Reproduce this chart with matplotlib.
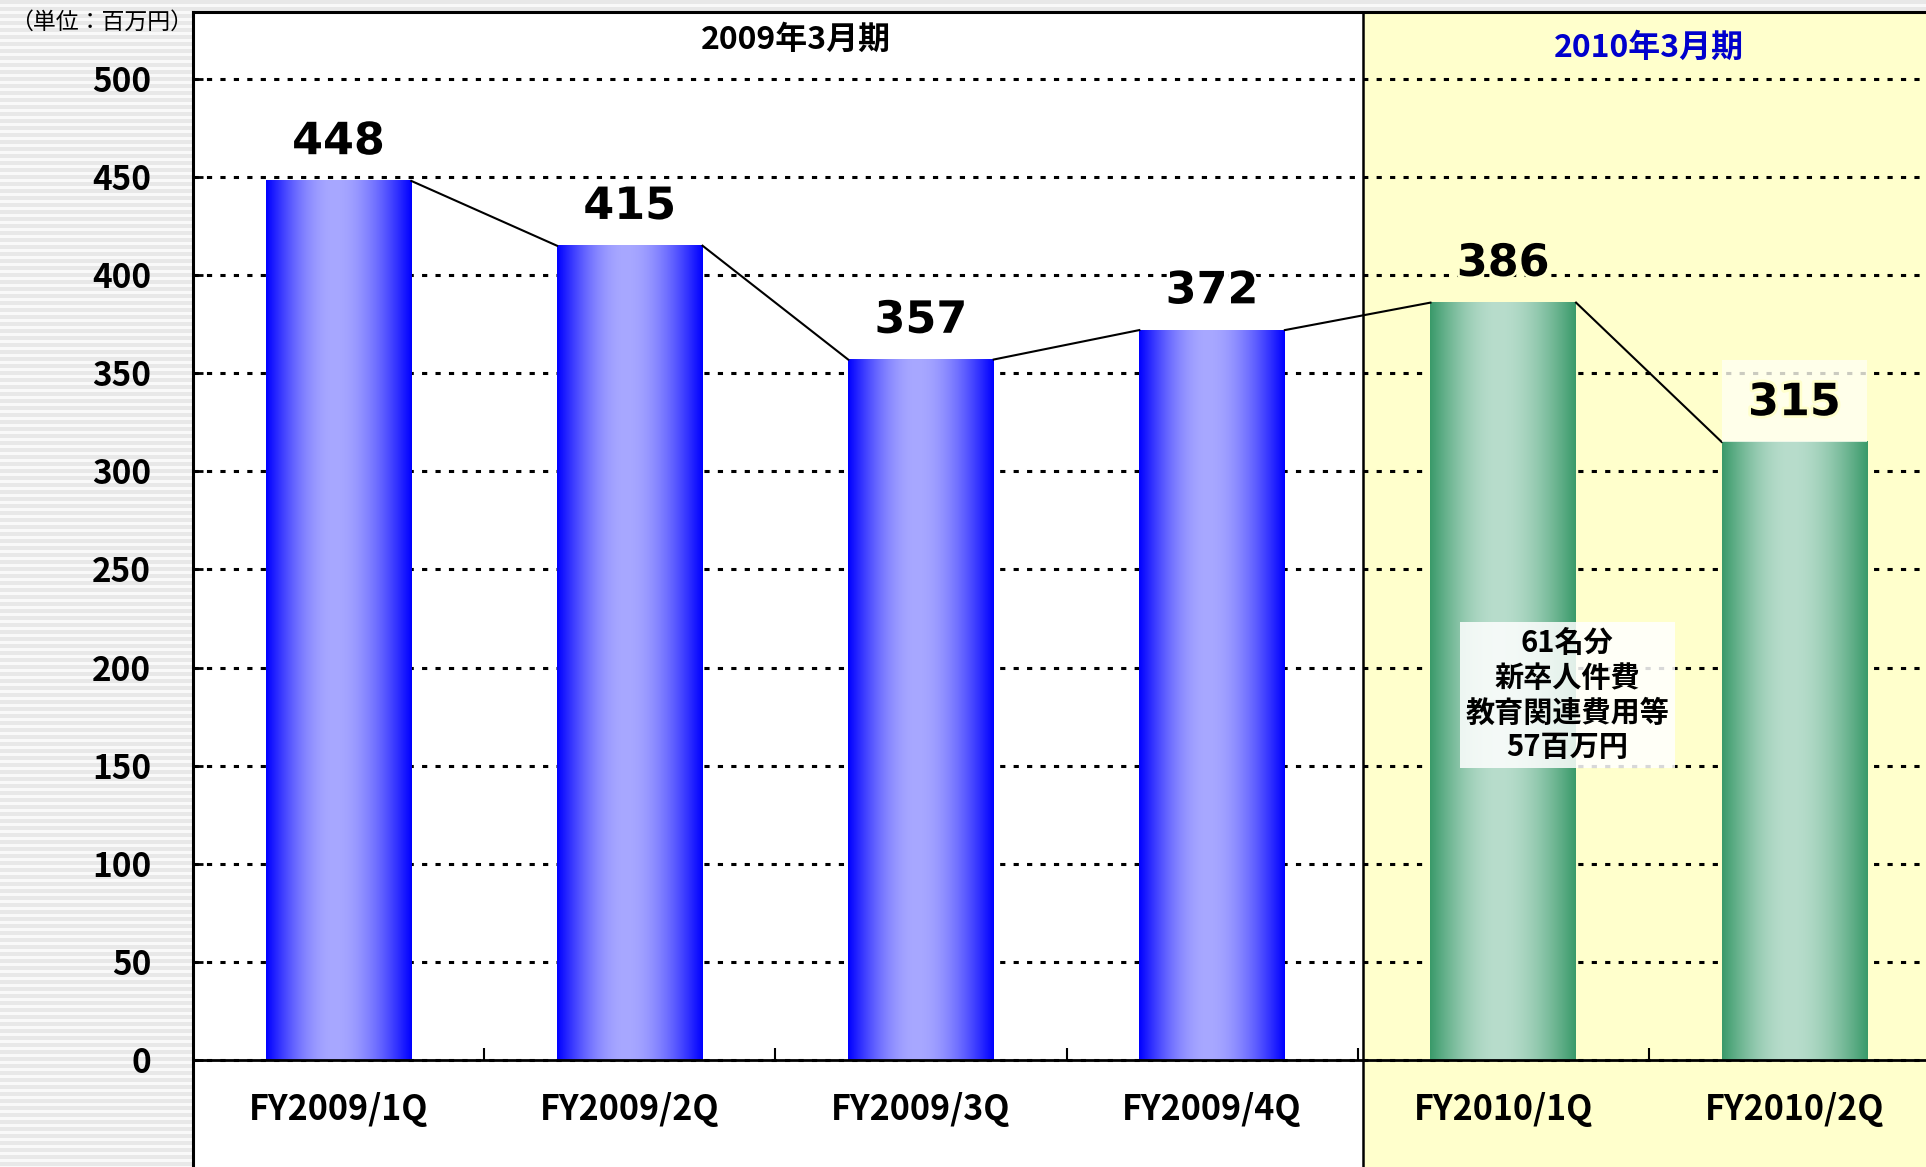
import numpy as np
import matplotlib.pyplot as plt
import matplotlib.patheffects as pe
from matplotlib.patches import Rectangle
from matplotlib.colors import to_rgb

plt.rcParams['font.family'] = ['Noto Sans CJK JP', 'DejaVu Sans']

# data
quarters = ['FY2009/1Q', 'FY2009/2Q', 'FY2009/3Q', 'FY2009/4Q', 'FY2010/1Q', 'FY2010/2Q']
costs = [448, 415, 357, 372, 386, 315]
period_labels = ['2009年3月期', '2010年3月期']
yticks = list(range(0, 501, 50))
unit_label = '（単位：百万円）'
note_text = '61名分\n新卒人件費\n教育関連費用等\n57百万円'

BLUE_EDGE, BLUE_MID = '#0000FF', '#A8A8FF'
GREEN_EDGE, GREEN_MID = '#3A9A6A', '#B8DDCC'
YELLOW = '#FFFFCC'

W, H = 1926, 1167
fig = plt.figure(figsize=(W / 100, H / 100), dpi=100)

# striped grey background
bg = fig.add_axes([0, 0, 1, 1], zorder=-10)
rows = np.arange(H)
stripes = np.where(rows % 7 < 4, 0.91, 0.975)
bg.imshow(stripes[:, None], cmap='gray', vmin=0, vmax=1, aspect='auto',
          extent=(0, 1, 0, 1), interpolation='nearest')
bg.axis('off')

ax = fig.add_axes([193 / W, 0, 1747 / W, 1155 / H])
ax.set_facecolor('white')
# spine position first: it resets the ticks
ax.spines['bottom'].set_position(('data', 0))
ax.spines['bottom'].set_linewidth(2)
ax.spines['left'].set_linewidth(2.2)
ax.spines['top'].set_linewidth(2.2)
ax.spines['right'].set_visible(False)

# second period shaded
ax.axvspan(3.52, 5.6, color=YELLOW, zorder=0, lw=0)
ax.axvline(3.52, color='black', lw=1.8, zorder=1)

x = np.arange(len(quarters))
bars = ax.bar(x, costs, width=0.5, color='none', zorder=2)

t = np.linspace(0, 1, 256)
prof = np.sin(np.pi / 2 * np.where(t < 0.47, t / 0.47, (1 - t) / 0.53))
for i, b in enumerate(bars):
    edge, mid = (BLUE_EDGE, BLUE_MID) if i < 4 else (GREEN_EDGE, GREEN_MID)
    e, m = np.array(to_rgb(edge)), np.array(to_rgb(mid))
    grad = e[None, :] + (m - e)[None, :] * prof[:, None]
    ax.imshow(grad[None, :, :], aspect='auto', interpolation='bilinear', zorder=2,
              extent=(b.get_x(), b.get_x() + b.get_width(), 0, b.get_height()))

# connecting lines between bars
for i in range(len(bars) - 1):
    ax.plot([bars[i].get_x() + bars[i].get_width(), bars[i + 1].get_x()],
            [costs[i], costs[i + 1]], color='black', lw=1.5, zorder=3)

# pale box behind last value
lb = bars[-1]
ax.add_patch(Rectangle((lb.get_x(), costs[-1]), lb.get_width(), 42,
                       facecolor='#FFFFF2', alpha=0.8, lw=0, zorder=3))

for i, (b, v) in enumerate(zip(bars, costs)):
    halo = 'white' if i < 4 else YELLOW
    ax.text(b.get_x() + b.get_width() / 2, v + 20, str(v), ha='center', va='center',
            fontsize=32, fontweight='bold', family='DejaVu Sans', zorder=5,
            path_effects=[pe.withStroke(linewidth=4, foreground=halo)])

ax.text(1.57, 520, period_labels[0], ha='center', va='center', fontsize=23,
        fontweight='bold', color='black')
ax.text(4.5, 516, period_labels[1], ha='center', va='center', fontsize=23,
        fontweight='bold', color='#0000CC')

ax.text(4.22, 186, note_text, ha='center', va='center', fontsize=21,
        fontweight='bold', linespacing=1.2, zorder=6,
        bbox=dict(boxstyle='square,pad=0.2', facecolor='white', alpha=0.85,
                  edgecolor='none'))

fig.text(10 / W, 1 - 22 / H, unit_label, fontsize=16.5, ha='left', va='center')

# axes styling
ax.set_xlim(-0.5, 5.5)
ax.set_ylim(-54.5, 534.1)
ax.set_yticks(yticks)
ax.set_yticklabels([str(v) for v in yticks], fontweight='bold')
ax.set_xticks(x)
ax.set_xticklabels(quarters, fontweight='bold')
ax.set_xticks(x[:-1] + 0.5, minor=True)
ax.tick_params(axis='y', direction='in', length=7, width=2, pad=30, labelsize=24)
ax.tick_params(axis='x', which='major', length=0, pad=23, labelsize=24.5)
ax.tick_params(axis='x', which='minor', direction='in', length=9, width=1.5)
ax.yaxis.grid(True, color='black', lw=2.2, linestyle=(0, (1.7, 2.7)))
ax.set_axisbelow(True)

fig.savefig('out.png', dpi=100)
